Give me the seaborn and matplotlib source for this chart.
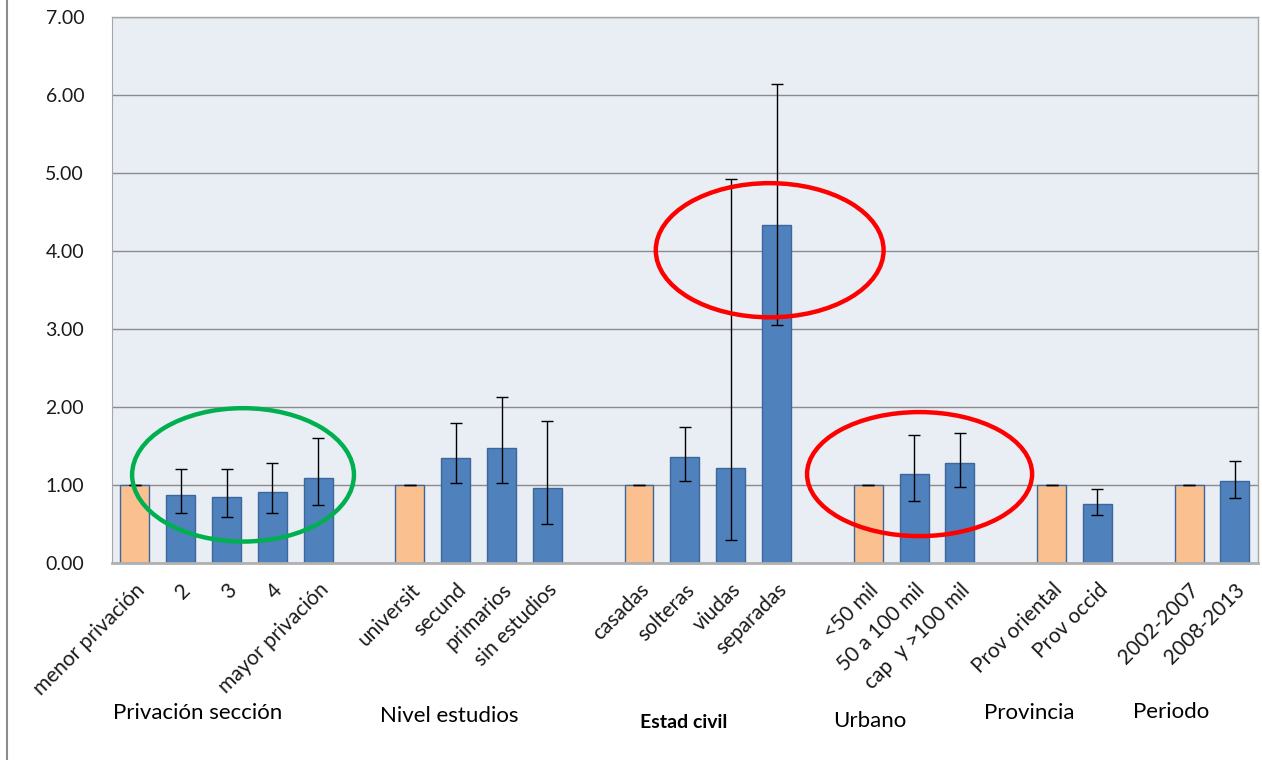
import matplotlib
matplotlib.use("Agg")
import matplotlib.pyplot as plt
from matplotlib.patches import Ellipse
from matplotlib.lines import Line2D
import numpy as np
import pandas as pd
import seaborn as sns

# categories per group (reference category first, drawn in orange)
groups = ["Privación sección", "Nivel estudios", "Estad civil", "Urbano", "Provincia", "Periodo"]
categories = [
    ["menor privación", "2", "3", "4", "mayor privación"],
    ["universit", "secund", "primarios", "sin estudios"],
    ["casadas", "solteras", "viudas", "separadas"],
    ["<50 mil", "50 a 100 mil", "cap  y >100 mil"],
    ["Prov oriental", "Prov occid"],
    ["2002-2007", "2008-2013"],
]
values = [
    [1.00, 0.87, 0.85, 0.91, 1.09],
    [1.00, 1.35, 1.47, 0.96],
    [1.00, 1.36, 1.22, 4.33],
    [1.00, 1.14, 1.28],
    [1.00, 0.76],
    [1.00, 1.05],
]
lower = [
    [1.00, 0.64, 0.59, 0.64, 0.74],
    [1.00, 1.03, 1.03, 0.50],
    [1.00, 1.05, 0.29, 3.05],
    [1.00, 0.80, 0.98],
    [1.00, 0.62],
    [1.00, 0.83],
]
upper = [
    [1.00, 1.20, 1.20, 1.28, 1.60],
    [1.00, 1.79, 2.13, 1.82],
    [1.00, 1.75, 4.92, 6.14],
    [1.00, 1.64, 1.67],
    [1.00, 0.95],
    [1.00, 1.31],
]

# build table with one empty slot between groups
rows = []
pos = 0
group_centers = []
for g, cats in enumerate(categories):
    start = pos
    for i, c in enumerate(cats):
        rows.append({"pos": pos, "label": c, "value": values[g][i],
                     "lo": lower[g][i], "hi": upper[g][i],
                     "tipo": "ref" if i == 0 else "cat"})
        pos += 1
    group_centers.append((start + pos - 1) / 2)
    pos += 1
df = pd.DataFrame(rows)

plt.rcParams['font.family'] = ['Lato', 'DejaVu Sans']
fig = plt.figure(figsize=(12.62, 7.6), dpi=100)
ax = fig.add_axes([0.0887, 0.2592, 0.908, 0.7184])
ax.set_facecolor("#E9EDF4")

ax.set_ylim(0, 7)
ax.set_xlim(-0.5, pos - 1.5)
ax.set_yticks(np.arange(0, 8, 1))
ax.set_yticklabels(["%.2f" % v for v in np.arange(0, 8, 1)])
ax.grid(axis="y", color="#8C8C8C", linewidth=1.0)
ax.set_axisbelow(True)

sns.barplot(data=df, x="pos", y="value", hue="tipo", native_scale=True,
            palette={"ref": "#FAC090", "cat": "#4F81BD"}, dodge=False,
            saturation=1, width=0.63, edgecolor="#3C679A", linewidth=1.0,
            legend=False, errorbar=None, ax=ax)

ax.errorbar(df["pos"], df["value"],
            yerr=[df["value"] - df["lo"], df["hi"] - df["value"]],
            fmt="none", ecolor="black", elinewidth=1.0, capsize=4.5, capthick=1.0,
            zorder=5)

ax.set_xticks(df["pos"])
ax.set_xticklabels(df["label"], rotation=45, ha="right", rotation_mode="anchor",
                   fontsize=15, color="#1a1a1a")
ax.tick_params(axis="x", length=0, pad=12)
ax.tick_params(axis="y", length=0, pad=20, labelsize=14, labelcolor="#1a1a1a")
ax.set_xlabel("")
ax.set_ylabel("")
for side in ["top", "right"]:
    ax.spines[side].set_color("#A6A6A6")
    ax.spines[side].set_linewidth(1.0)
ax.spines["left"].set_color("#A6A6A6")
ax.spines["bottom"].set_color("#B0B0B0")
ax.spines["bottom"].set_linewidth(2.0)

# annotation ellipses
for (cx, cy, w, h, col) in [(2.36, 1.13, 4.84, 1.71, "#00B050"),
                            (13.85, 4.01, 4.97, 1.72, "#FF0000"),
                            (17.12, 1.14, 4.91, 1.59, "#FF0000")]:
    ax.add_patch(Ellipse((cx, cy), w, h, fill=False, edgecolor=col,
                         linewidth=3.2, zorder=6))

# group labels below the tick labels
label_y = [-0.275, -0.280, -0.293, -0.289, -0.275, -0.273]
offsets = [-0.63, -0.65, -0.52, -0.96, -0.98, -0.89]
for g, name in enumerate(groups):
    x = group_centers[g] + offsets[g]
    bold = name == "Estad civil"
    ax.text(x, label_y[g], name, transform=ax.get_xaxis_transform(),
            ha="center", va="center", fontsize=14 if bold else 16,
            fontweight="bold" if bold else "normal", color="black")

# left frame line of the picture
fig.add_artist(Line2D([0.0055, 0.0055], [0, 1], color="#8C8C8C", linewidth=1.5,
                      transform=fig.transFigure))

fig.savefig("out.png", dpi=100)
